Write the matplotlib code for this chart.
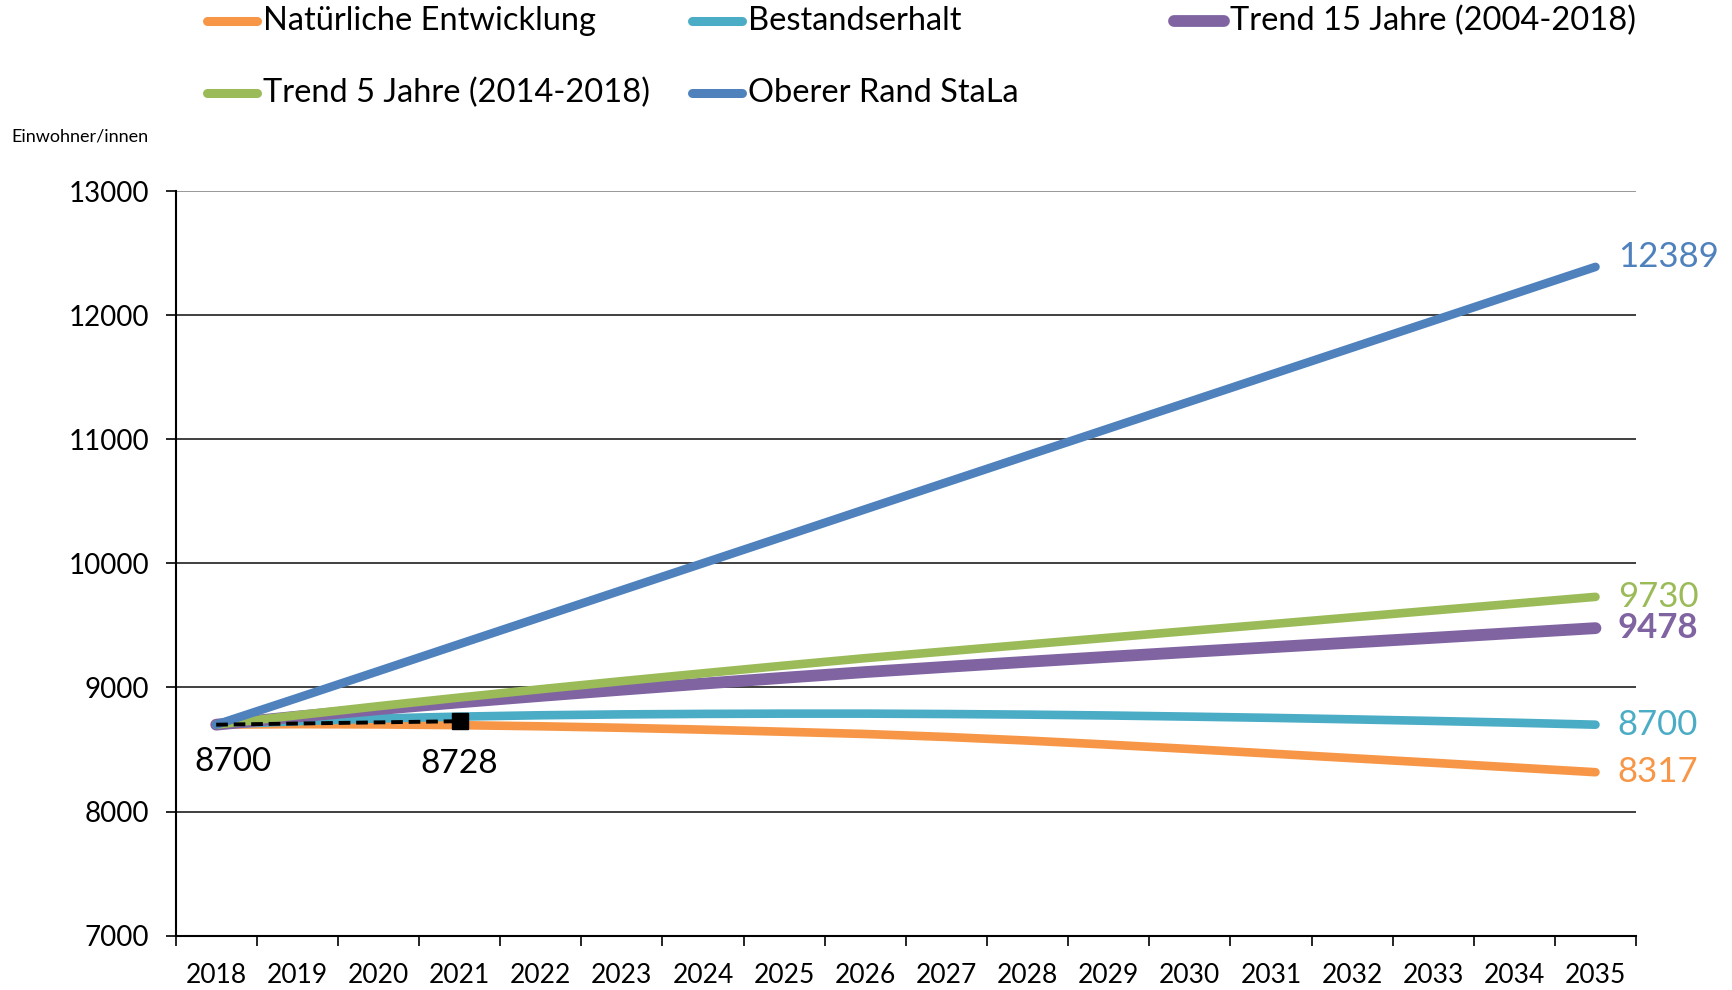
import numpy as np
import matplotlib.pyplot as plt
from matplotlib.lines import Line2D

plt.rcParams['font.family'] = ['Lato', 'DejaVu Sans']

years = [str(y) for y in range(2018, 2036)]

# values
natuerlich = [8700, 8704, 8702, 8696, 8687, 8675, 8660, 8643, 8625,
              8601, 8572, 8539, 8504, 8467, 8430, 8393, 8355, 8317]
bestand = [8700, 8728, 8750, 8765, 8776, 8783, 8787, 8789, 8789,
           8786, 8781, 8774, 8765, 8755, 8743, 8730, 8716, 8700]
trend15 = [8700, 8765, 8825, 8880, 8932, 8982, 9031, 9078, 9124,
           9166, 9207, 9247, 9286, 9324, 9362, 9400, 9439, 9478]
trend5 = [8700, 8776, 8849, 8919, 8986, 9051, 9114, 9176, 9236,
          9291, 9346, 9401, 9456, 9510, 9565, 9620, 9675, 9730]
oberer = [8700, 8915, 9132, 9350, 9567, 9784, 10001, 10218, 10436,
          10653, 10870, 11087, 11304, 11521, 11738, 11955, 12172, 12389]
ist_years = ['2018', '2021']
ist_values = [8700, 8728]

series = [
    ('Natürliche Entwicklung', natuerlich, '#F79646', 6.2),
    ('Bestandserhalt', bestand, '#4BACC6', 6.2),
    ('Trend 15 Jahre (2004-2018)', trend15, '#8064A2', 8.5),
    ('Trend 5 Jahre (2014-2018)', trend5, '#9BBB59', 6.2),
    ('Oberer Rand StaLa', oberer, '#4F81BD', 6.2),
]

fig = plt.figure(figsize=(17.32, 9.9), dpi=100)
ax = fig.add_axes([0.1014, 0.0549, 0.8432, 0.7521])

x = np.arange(len(years))
draw_order = [0, 1, 3, 2, 4]
for i in draw_order:
    name, vals, col, lw = series[i]
    ax.plot(x, vals, color=col, lw=lw, solid_capstyle='round', zorder=3 + i * 0.1)

ix = [years.index(y) for y in ist_years]
ax.plot(ix, ist_values, color='black', lw=2.8, ls=(0, (3, 1.5)), zorder=5)
ax.plot(ix[-1], ist_values[-1], marker='s', color='black', ms=12, zorder=6)

# start / actual labels
ax.annotate(str(ist_values[0]), (ix[0], ist_values[0]), xytext=(12, -16),
            textcoords='offset points', ha='center', va='top', fontsize=24)
ax.annotate(str(ist_values[1]), (ix[1], ist_values[1]), xytext=(0, -20),
            textcoords='offset points', ha='center', va='top', fontsize=24)

# end labels
for name, vals, col, lw in series:
    dy = 7 if vals is oberer else 0
    bold = vals is trend15
    ax.annotate(str(vals[-1]), (x[-1], vals[-1]), xytext=(16, dy),
                textcoords='offset points', ha='left', va='center',
                fontsize=25, color=col,
                fontweight='bold' if bold else 'normal')

ax.set_ylim(7000, 13000)
ax.set_xlim(-0.5, len(years) - 0.5)
ax.set_yticks(np.arange(7000, 13001, 1000))
ax.tick_params(axis='y', length=7, width=1.2, labelsize=20, pad=12)
ax.set_xticks(np.arange(-0.5, len(years)), labels=[''] * (len(years) + 1))
ax.set_xticks(x, labels=years, minor=True)
ax.tick_params(axis='x', which='major', length=7, width=1.2)
ax.tick_params(axis='x', which='minor', length=0, labelsize=19, pad=20)

for v in range(8000, 13001, 1000):
    ax.axhline(v, color='#303030' if v < 13000 else '#909090', lw=1.3, zorder=1)

for s in ['top', 'right']:
    ax.spines[s].set_visible(False)
for s in ['left', 'bottom']:
    ax.spines[s].set_linewidth(1.5)
    ax.spines[s].set_color('black')

fig.text(0.0064, 0.8626, 'Einwohner/innen', fontsize=13, ha='left', va='center')

# legend, fixed grid
leg_x = [0.1193, 0.3993, 0.6779]
leg_y = [0.979, 0.906]
for k, (name, vals, col, lw) in enumerate(series):
    cx = leg_x[k % 3]
    cy = leg_y[k // 3]
    fig.add_artist(Line2D([cx, cx + 0.029], [cy, cy], transform=fig.transFigure,
                          color=col, lw=6.5 if lw < 7 else 8.5,
                          solid_capstyle='round'))
    fig.text(cx + 0.0325, cy, name, fontsize=23.5, ha='left', va='center')

fig.savefig('out.png', dpi=100)
